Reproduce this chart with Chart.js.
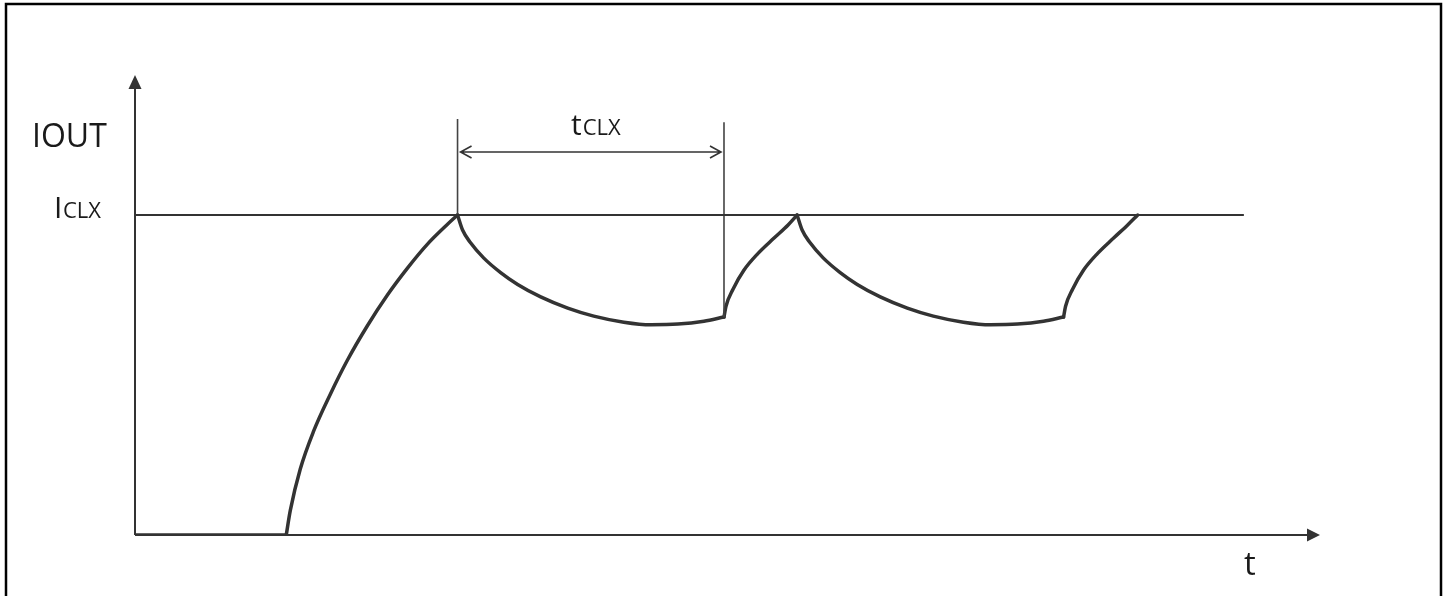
<!DOCTYPE html>
<html>
<head>
<meta charset="utf-8">
<script src="https://cdn.jsdelivr.net/npm/chart.js@4/dist/chart.umd.min.js"></script>
<style>
  html, body { margin: 0; padding: 0; background: #fff; }
  #wrap { width: 1450px; height: 596px; position: relative; }
</style>
</head>
<body>
<div id="wrap"><canvas id="ioutChart"></canvas></div>
<script>
// thoi gian (don vi tuy y) va dong dien chuan hoa theo ICLX = 1
// moi doan cua dang song IOUT mot cap mang (giu goc nhon o dinh)
const baseT = [0, 15.1];
const baseI = [0, 0];
const rise1T = [15.1, 15.5, 16.5, 17.8, 19.5, 21.2, 23.2, 25.2, 27.2, 29.2, 31.2, 32.2];
const rise1I = [0, 0.076, 0.206, 0.322, 0.440, 0.546, 0.654, 0.750, 0.834, 0.909, 0.971, 1.0];
const decay1T = [32.2, 32.7, 33.5, 34.8, 36.5, 38.2, 40.5, 43.2, 45.8, 48.8, 51.5, 54.2, 56.8, 58.8];
const decay1I = [1.0, 0.953, 0.913, 0.866, 0.820, 0.783, 0.744, 0.709, 0.684, 0.665, 0.657, 0.659, 0.668, 0.681];
const rise2T = [58.8, 59.0, 59.7, 60.8, 62.2, 63.8, 65.2, 66.1];
const rise2I = [0.681, 0.715, 0.768, 0.828, 0.880, 0.928, 0.969, 1.0];
const decay2T = [66.1, 66.6, 67.4, 68.7, 70.4, 72.1, 74.4, 77.1, 79.7, 82.7, 85.4, 88.1, 90.7, 92.7];
const decay2I = [1.0, 0.953, 0.913, 0.866, 0.820, 0.783, 0.744, 0.709, 0.684, 0.665, 0.657, 0.659, 0.668, 0.681];
const rise3T = [92.7, 92.9, 93.6, 94.7, 96.1, 97.7, 99.1, 100.1];
const rise3I = [0.681, 0.715, 0.768, 0.828, 0.880, 0.928, 0.969, 1.0];

// muc gioi han ICLX
const iclxLevel = 1.0;
const iclxEnd = 110.7;

// hai vach danh dau khoang tCLX
const markerT = [32.2, 58.8];
const markerTop = [1.30, 1.29];
const markerBottom = [1.0, 0.681];
const tclxArrowI = 1.197;

// gioi han truc
const tMax = 118.3;
const iMax = 1.4375;

const ink = '#333333';

const toPoints = (ts, is) => ts.map((t, i) => ({ x: t, y: is[i] }));

// ve khung, truc, mui ten va chu
const diagramPlugin = {
  id: 'diagram',
  afterDatasetsDraw(chart) {
    const ctx = chart.ctx;
    const x = chart.scales.x, y = chart.scales.y;
    const x0 = x.getPixelForValue(0), y0 = y.getPixelForValue(0);
    const xEnd = x.getPixelForValue(tMax), yTop = y.getPixelForValue(iMax);
    ctx.save();

    // khung ngoai
    ctx.strokeStyle = '#000';
    ctx.lineWidth = 2.5;
    ctx.strokeRect(6, 4, 1435, 600);

    // truc
    ctx.strokeStyle = ink;
    ctx.fillStyle = ink;
    ctx.lineWidth = 2;
    ctx.beginPath();
    ctx.moveTo(x0, y0); ctx.lineTo(x0, yTop + 10);
    ctx.moveTo(x0, y0); ctx.lineTo(xEnd - 10, y0);
    ctx.stroke();
    ctx.beginPath();
    ctx.moveTo(x0, yTop); ctx.lineTo(x0 - 6.5, yTop + 14); ctx.lineTo(x0 + 6.5, yTop + 14); ctx.closePath();
    ctx.fill();
    ctx.beginPath();
    ctx.moveTo(xEnd, y0); ctx.lineTo(xEnd - 13, y0 - 6.5); ctx.lineTo(xEnd - 13, y0 + 6.5); ctx.closePath();
    ctx.fill();

    // mui ten hai dau tCLX
    const ax1 = x.getPixelForValue(markerT[0]) + 3;
    const ax2 = x.getPixelForValue(markerT[1]) - 3;
    const ay = y.getPixelForValue(tclxArrowI);
    ctx.lineWidth = 1.6;
    ctx.beginPath();
    ctx.moveTo(ax1, ay); ctx.lineTo(ax2, ay);
    ctx.moveTo(ax1 + 11, ay - 6); ctx.lineTo(ax1, ay); ctx.lineTo(ax1 + 11, ay + 6);
    ctx.moveTo(ax2 - 11, ay - 6); ctx.lineTo(ax2, ay); ctx.lineTo(ax2 - 11, ay + 6);
    ctx.stroke();

    // chu
    ctx.fillStyle = '#1a1a1a';
    ctx.textBaseline = 'alphabetic';
    ctx.textAlign = 'left';
    const big = '30px "Open Sans", sans-serif';
    const sub = '22px "Open Sans", sans-serif';

    ctx.font = '32px "Open Sans", sans-serif';
    ctx.fillText('IOUT', 32, 147);

    ctx.font = big;
    ctx.fillText('I', 54, 218);
    ctx.font = sub;
    ctx.fillText('CLX', 63, 218);

    ctx.font = big;
    ctx.fillText('t', 571, 135);
    const tw = ctx.measureText('t').width;
    ctx.font = sub;
    ctx.fillText('CLX', 571 + tw + 1, 135);

    ctx.font = '33px "Open Sans", sans-serif';
    ctx.fillText('t', 1244, 575);

    ctx.restore();
  }
};

// net dam cho dang song
function waveSegment(ts, is) {
  return {
    data: toPoints(ts, is),
    showLine: true,
    borderColor: ink,
    borderWidth: 3.5,
    borderJoinStyle: 'round',
    borderCapStyle: 'round',
    pointRadius: 0,
    cubicInterpolationMode: 'monotone',
  };
}

const ctx = document.getElementById('ioutChart').getContext('2d');

new Chart(ctx, {
  type: 'scatter',
  data: {
    datasets: [
      {
        // muc ICLX
        data: [{ x: 0, y: iclxLevel }, { x: iclxEnd, y: iclxLevel }],
        showLine: true,
        borderColor: ink,
        borderWidth: 2,
        pointRadius: 0,
      },
      {
        data: [{ x: markerT[0], y: markerTop[0] }, { x: markerT[0], y: markerBottom[0] }],
        showLine: true,
        borderColor: '#444',
        borderWidth: 1.6,
        pointRadius: 0,
      },
      {
        data: [{ x: markerT[1], y: markerTop[1] }, { x: markerT[1], y: markerBottom[1] }],
        showLine: true,
        borderColor: '#444',
        borderWidth: 1.6,
        pointRadius: 0,
      },
      waveSegment(baseT, baseI),
      waveSegment(rise1T, rise1I),
      waveSegment(decay1T, decay1I),
      waveSegment(rise2T, rise2I),
      waveSegment(decay2T, decay2I),
      waveSegment(rise3T, rise3I),
    ],
  },
  options: {
    responsive: true,
    maintainAspectRatio: false,
    animation: false,
    layout: { padding: { left: 135, right: 130, top: 75, bottom: 61 } },
    scales: {
      x: { type: 'linear', min: 0, max: tMax, display: false },
      y: { type: 'linear', min: 0, max: iMax, display: false },
    },
    plugins: {
      legend: { display: false },
      tooltip: { enabled: false },
    },
  },
  plugins: [diagramPlugin],
});
</script>
</body>
</html>
